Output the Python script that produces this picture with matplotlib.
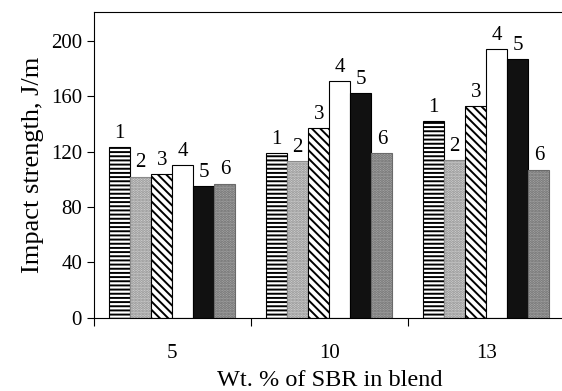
import matplotlib.pyplot as plt
import numpy as np

plt.rcParams['font.family'] = ['Liberation Serif', 'DejaVu Serif']
plt.rcParams['hatch.linewidth'] = 1.4

groups = ['5', '10', '13']
series_labels = ['1', '2', '3', '4', '5', '6']
values = [
    [123, 102, 104, 110, 95, 97],    # 5 wt.%
    [119, 113, 137, 171, 162, 119],  # 10 wt.%
    [142, 114, 153, 194, 187, 107],  # 13 wt.%
]

styles = [
    dict(facecolor='white', edgecolor='black', hatch='----'),
    dict(facecolor='#d4d4d4', edgecolor='#8a8a8a', hatch='......'),
    dict(facecolor='white', edgecolor='black', hatch='\\\\\\\\'),
    dict(facecolor='white', edgecolor='black', hatch=None),
    dict(facecolor='#111111', edgecolor='black', hatch=None),
    dict(facecolor='#a8a8a8', edgecolor='#6a6a6a', hatch='......'),
]

fig = plt.figure(figsize=(5.62, 3.91), dpi=100)
ax = fig.add_axes([0.167, 0.187, 0.838, 0.783])

vals = np.array(values)
x = np.arange(len(groups))
n = len(series_labels)
width = 0.134

for i in range(n):
    pos = x + (i - (n - 1) / 2) * width
    bars = ax.bar(pos, vals[:, i], width, linewidth=0.8, **styles[i])
    for b in bars:
        ax.annotate(series_labels[i], xy=(b.get_x() + b.get_width() / 2, b.get_height()),
                    xytext=(0, 3), textcoords='offset points',
                    ha='center', va='bottom', fontsize=15)

ax.set_xlim(-0.5, 2.5)
ax.set_ylim(0, 221)
ax.set_yticks([0, 40, 80, 120, 160, 200])
ax.set_xticks([-0.5, 0.5, 1.5])
ax.set_xticklabels([])
ax.set_xticks(x, minor=True)
ax.set_xticklabels(groups, minor=True)
ax.tick_params(axis='x', which='minor', length=0, pad=19, labelsize=15)
ax.tick_params(axis='x', which='major', length=6, direction='out')
ax.tick_params(axis='y', length=5, direction='out', labelsize=15)

ax.spines['right'].set_visible(False)
for s in ['top', 'left', 'bottom']:
    ax.spines[s].set_linewidth(0.8)

ax.set_ylabel('Impact strength, J/m', fontsize=19, labelpad=5)
ax.set_xlabel('Wt. % of SBR in blend', fontsize=17.5, labelpad=5)

fig.savefig('out.png', dpi=100)
